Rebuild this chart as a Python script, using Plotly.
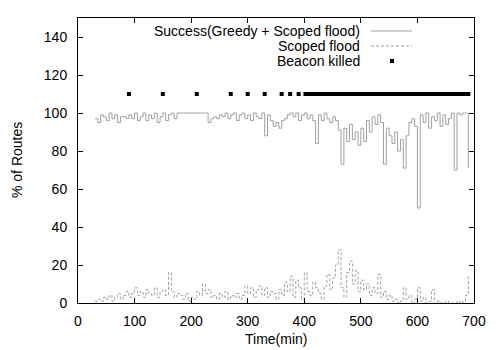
import plotly.graph_objects as go

# ---- data ----
time_min = [30, 35, 40, 45, 50, 55, 60, 65, 70, 75, 80, 85, 90, 95, 100, 105, 110, 115, 120, 125,
            130, 135, 140, 145, 150, 155, 160, 165, 170, 175, 180, 185, 190, 195, 200, 205, 210, 215, 220, 225,
            230, 235, 240, 245, 250, 255, 260, 265, 270, 275, 280, 285, 290, 295, 300, 305, 310, 315, 320, 325,
            330, 335, 340, 345, 350, 355, 360, 365, 370, 375, 380, 385, 390, 395, 400, 405, 410, 415, 420, 425,
            430, 435, 440, 445, 450, 455, 460, 465, 470, 475, 480, 485, 490, 495, 500, 505, 510, 515, 520, 525,
            530, 535, 540, 545, 550, 555, 560, 565, 570, 575, 580, 585, 590, 595, 600, 605, 610, 615, 620, 625,
            630, 635, 640, 645, 650, 655, 660, 665, 670, 675, 680, 685, 690]

success = [97, 95, 99, 98, 96, 100, 97, 99, 95, 98, 98, 97, 99, 97, 100, 96, 98, 100, 96, 99,
           97, 100, 95, 98, 100, 96, 99, 100, 97, 100, 100, 100, 100, 100, 100, 100, 100, 100, 100, 100,
           95, 97, 98, 97, 99, 98, 100, 97, 99, 100, 96, 99, 100, 97, 99, 96, 100, 98, 97, 100,
           88, 99, 96, 93, 95, 92, 96, 97, 99, 100, 98, 100, 96, 99, 100, 97, 99, 96, 84, 99,
           96, 100, 97, 95, 98, 96, 91, 73, 92, 85, 94, 86, 90, 83, 92, 85, 96, 90, 98, 94,
           99, 95, 73, 92, 88, 84, 90, 80, 86, 71, 88, 95, 97, 93, 50, 99, 95, 100, 92, 98,
           96, 100, 93, 99, 94, 97, 100, 70, 100, 99, 100, 100, 71]

scoped_flood = [1, 2, 1, 3, 2, 4, 1, 3, 5, 2, 4, 6, 3, 5, 8, 4, 6, 3, 7, 5,
                4, 8, 3, 6, 7, 4, 16, 6, 3, 5, 4, 2, 5, 1, 3, 2, 6, 4, 10, 5,
                7, 3, 4, 2, 5, 3, 6, 2, 4, 3, 5, 2, 4, 9, 5, 8, 3, 7, 9, 4,
                8, 3, 6, 5, 2, 7, 4, 11, 6, 14, 3, 12, 8, 2, 16, 6, 4, 11, 8, 5,
                2, 9, 15, 7, 13, 20, 28, 8, 3, 16, 22, 10, 17, 6, 12, 7, 10, 4, 8, 5,
                15, 3, 6, 2, 4, 1, 2, 0, 1, 8, 2, 4, 0, 2, 8, 1, 3, 0, 1, 7,
                0, 1, 0, 0, 1, 0, 0, 0, 1, 0, 1, 4, 14]

beacon_killed_t = [90, 150, 210, 270, 300, 330, 360, 375, 390, 402, 406, 410, 414, 418,
                   420, 425, 430, 435, 440, 445, 450, 455, 460, 465, 470, 475, 480, 485, 490,
                   495, 500, 505, 510, 515, 520, 525, 530, 535, 540, 545, 550, 555, 560, 565,
                   570, 575, 580, 585, 590, 595, 600, 605, 610, 615, 620, 625, 630, 635, 640,
                   645, 650, 655, 660, 665, 670, 675, 680, 685, 690]
beacon_level = 110

x_ticks = [0, 100, 200, 300, 400, 500, 600, 700]
y_ticks = [0, 20, 40, 60, 80, 100, 120, 140]

legend_labels = ["Success(Greedy + Scoped flood)", "Scoped flood", "Beacon killed"]

FONT = "Liberation Sans, Arial, Helvetica, sans-serif"
GRAY = "#a0a0a0"
FS = 14

fig = go.Figure()
fig.add_trace(go.Scatter(x=time_min, y=success, mode="lines", line_shape="hv",
                         line=dict(color=GRAY, width=1), name=legend_labels[0]))
fig.add_trace(go.Scatter(x=time_min, y=scoped_flood, mode="lines", line_shape="hv",
                         line=dict(color=GRAY, width=1, dash="3px,2px"), name=legend_labels[1]))
fig.add_trace(go.Scatter(x=beacon_killed_t, y=[beacon_level for _ in beacon_killed_t], mode="markers",
                         marker=dict(symbol="square", size=4, color="black", line=dict(width=0)),
                         name=legend_labels[2]))

W, H = 500, 350
L, R, T, B = 78, 26, 18, 47
pw, ph = W - L - R, H - T - B

def px(xp):
    return (xp - L) / pw

def py(yp):
    return (H - B - yp) / ph

# manual gnuplot-style legend (text right-aligned, sample on the right)
leg_y = [31, 46, 61]
text_right = 362
for lab, yy in zip(legend_labels, leg_y):
    fig.add_annotation(x=px(text_right), y=py(yy), xref="paper", yref="paper", text=lab,
                       showarrow=False, xanchor="right", yanchor="middle",
                       font=dict(family=FONT, size=FS, color="black"))
fig.add_shape(type="line", xref="paper", yref="paper", x0=px(371), x1=px(412), y0=py(leg_y[0]), y1=py(leg_y[0]),
              line=dict(color=GRAY, width=1))
fig.add_shape(type="line", xref="paper", yref="paper", x0=px(371), x1=px(412), y0=py(leg_y[1]), y1=py(leg_y[1]),
              line=dict(color=GRAY, width=1, dash="3px,2px"))
fig.add_shape(type="rect", xref="paper", yref="paper", x0=px(390), x1=px(394), y0=py(leg_y[2] - 2), y1=py(leg_y[2] + 2),
              line=dict(width=0), fillcolor="black")

fig.add_annotation(x=px(17), y=py(160), xref="paper", yref="paper", text="% of Routes", textangle=-90,
                   showarrow=False, xanchor="center", yanchor="middle",
                   font=dict(family=FONT, size=FS, color="black"))
fig.add_annotation(x=px(276), y=py(339), xref="paper", yref="paper", text="Time(min)",
                   showarrow=False, xanchor="center", yanchor="middle",
                   font=dict(family=FONT, size=FS, color="black"))

axis_common = dict(showline=True, linecolor="black", linewidth=1, mirror="ticks", ticks="inside",
                   ticklen=5, tickcolor="black", showgrid=False, zeroline=False,
                   tickfont=dict(family=FONT, size=FS, color="black"))
fig.update_xaxes(range=[0, 700], tickvals=x_ticks, ticktext=[str(v) for v in x_ticks],
                 ticklabelstandoff=5, **axis_common)
fig.update_yaxes(range=[0, 150], tickvals=y_ticks, ticktext=[str(v) for v in y_ticks],
                 ticklabelstandoff=7, **axis_common)

fig.update_layout(width=W, height=H, margin=dict(l=L, r=R, t=T, b=B, autoexpand=False),
                  paper_bgcolor="white", plot_bgcolor="white", showlegend=False,
                  font=dict(family=FONT, size=FS, color="black"))

fig.write_html("out.html")
